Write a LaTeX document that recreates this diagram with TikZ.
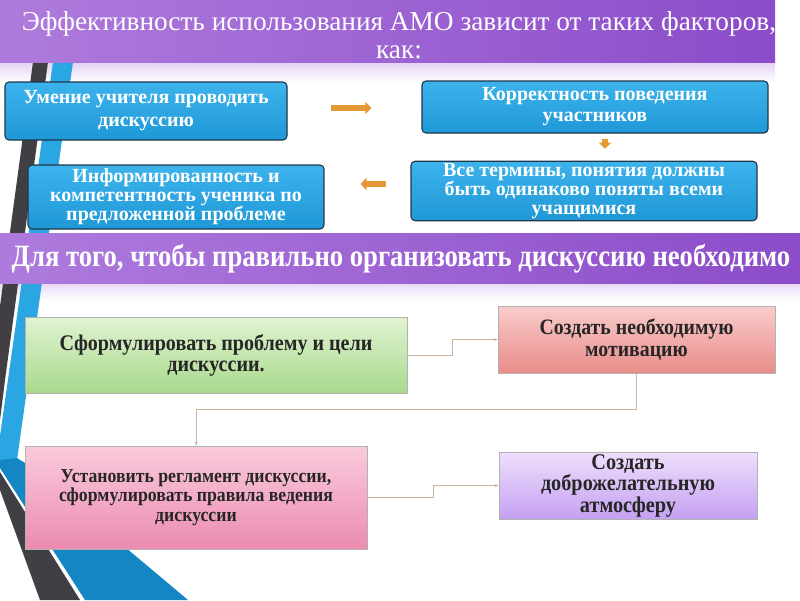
\documentclass[tikz,border=0pt]{standalone}
\usepackage{fontspec}
\setmainfont{Liberation Serif}
\newfontfamily\condfont[FakeStretch=0.86]{Liberation Serif}
\newfontfamily\boxfont[FakeStretch=0.9]{Liberation Serif}
\usetikzlibrary{arrows.meta}
\definecolor{barL}{HTML}{AE7BDD}
\definecolor{barR}{HTML}{8C4CC9}
\definecolor{blueT}{HTML}{3DB3EC}
\definecolor{blueB}{HTML}{1E98D6}
\definecolor{blueEdge}{HTML}{22364A}
\definecolor{orangeA}{HTML}{E39A36}
\definecolor{linkC}{HTML}{C9B49C}
\definecolor{stripeDark}{HTML}{3F3F44}
\definecolor{stripeBlue}{HTML}{2AA6E2}
\definecolor{stripeBlueD}{HTML}{1586C4}
\definecolor{gT}{HTML}{E0F3D2}
\definecolor{gB}{HTML}{A9D98C}
\definecolor{rT}{HTML}{F9CCCB}
\definecolor{rB}{HTML}{E88C89}
\definecolor{pT}{HTML}{FACBDD}
\definecolor{pB}{HTML}{EC8BB0}
\definecolor{vT}{HTML}{EEDFFC}
\definecolor{vB}{HTML}{C5A0F2}
\tikzset{
  topbar/.style={draw=none,left color=barL,right color=barR},
  bluebox/.style={draw=blueEdge,line width=1.1pt,rounded corners=4pt,
    top color=blueT,bottom color=blueB,text=white,align=center,
    font=\bfseries\fontsize{20}{20}\selectfont,inner sep=2pt},
  flatbox/.style={draw=gray!60,line width=0.6pt,align=center,inner sep=2pt,
    font=\boxfont\bfseries\fontsize{22}{21}\selectfont,text=black!85},
  orarrow/.style={draw=orangeA,line width=5.5pt,-{Triangle[length=6pt,width=12pt]}},
  link/.style={draw=linkC,line width=0.9pt,-{Stealth[length=4pt,width=3pt]}}
}
\begin{document}
\begin{tikzpicture}[x=1pt,y=-1pt]
\useasboundingbox (0,0) rectangle (800,600);
\fill[white] (0,0) rectangle (800,600);
% light fades
\shade[top color=barL!35,bottom color=white] (0,62) rectangle (775,82);
\shade[top color=barL!30,bottom color=white] (0,283) rectangle (800,300);
% decorative stripes
\fill[stripeDark] (33,62) -- (48,62) -- (5,380) -- (0,420) -- (0,306) -- cycle;
\fill[stripeBlue] (53,62) -- (73,62) -- (17,460) -- (0,462) -- (0,436) -- cycle;
\fill[stripeBlueD] (17,458) -- (25,463) -- (188,600) -- (85,600) -- (0,468) -- (0,460) -- cycle;
\fill[stripeDark] (0,472) -- (80,600) -- (40,600) -- (0,490) -- cycle;
% bars
\node[topbar,minimum width=775pt,minimum height=62pt,anchor=north west,inner sep=0pt] (title) at (0,0) {};
\node[text=white,align=center,font=\fontsize{27.3}{28}\selectfont] (titletext) at (399,35)
  {Эффективность использования АМО зависит от таких факторов,\\как:};
\node[topbar,minimum width=800pt,minimum height=50pt,anchor=north west,inner sep=0pt] (bar2) at (0,233) {};
\node[text=white,font=\condfont\bfseries\fontsize{31}{31}\selectfont] (bar2text) at (401,259)
  {Для того, чтобы правильно организовать дискуссию необходимо};
% blue boxes
\node[bluebox,minimum width=282pt,minimum height=58pt,font=\bfseries\fontsize{20}{23}\selectfont] (b1) at (146,111)
  {Умение учителя проводить\\дискуссию};
\node[bluebox,minimum width=346pt,minimum height=52pt,font=\bfseries\fontsize{20}{21}\selectfont] (b2) at (595,107)
  {Корректность поведения\\участников};
\node[bluebox,minimum width=296pt,minimum height=64pt,font=\bfseries\fontsize{20}{19}\selectfont] (b3) at (176,197)
  {Информированность и\\компетентность ученика по\\предложенной проблеме};
\node[bluebox,minimum width=346pt,minimum height=54pt,font=\bfseries\fontsize{20}{19}\selectfont] (b4) at (584,191)
  {Все термины, понятия должны\\быть одинаково поняты всеми\\учащимися};
% orange arrows
\coordinate (ya) at (0,108);
\coordinate (xd) at (605,0);
\coordinate (yl) at (0,184);
\draw[orarrow,shorten <=43pt,shorten >=50pt] (b1.east |- ya) -- (b2.west |- ya);
\draw[orarrow,shorten <=5pt,shorten >=12pt] (b2.south -| xd) -- (b4.north -| xd);
\draw[orarrow,shorten <=24pt,shorten >=36pt] (b4.west |- yl) -- (b3.east |- yl);
% lower boxes
\node[flatbox,minimum width=382pt,minimum height=76pt,top color=gT,bottom color=gB,font=\boxfont\bfseries\fontsize{22.3}{21}\selectfont] (g) at (216,355)
  {Сформулировать проблему и цели\\дискуссии.};
\node[flatbox,minimum width=277pt,minimum height=67pt,top color=rT,bottom color=rB,font=\boxfont\bfseries\fontsize{22}{22}\selectfont] (r) at (636.5,339.5)
  {Создать необходимую\\мотивацию};
\node[flatbox,minimum width=342pt,minimum height=103pt,top color=pT,bottom color=pB,font=\boxfont\bfseries\fontsize{19.7}{19.5}\selectfont] (p) at (196,497.5)
  {Установить регламент дискуссии,\\сформулировать правила ведения\\дискуссии};
\node[flatbox,minimum width=258pt,minimum height=61pt,top color=vT,bottom color=vB,font=\boxfont\bfseries\fontsize{22.5}{21.5}\selectfont] (v) at (628,485.5)
  {Создать\\доброжелательную\\атмосферу};
% connectors
\draw[link] (g.east) -- ++(45,0) |- (r.west);
\draw[link] (r.south) -- ++(0,36) -| (p.north);
\draw[link] (p.east) -- ++(66,0) |- (v.west);
\end{tikzpicture}
\end{document}
